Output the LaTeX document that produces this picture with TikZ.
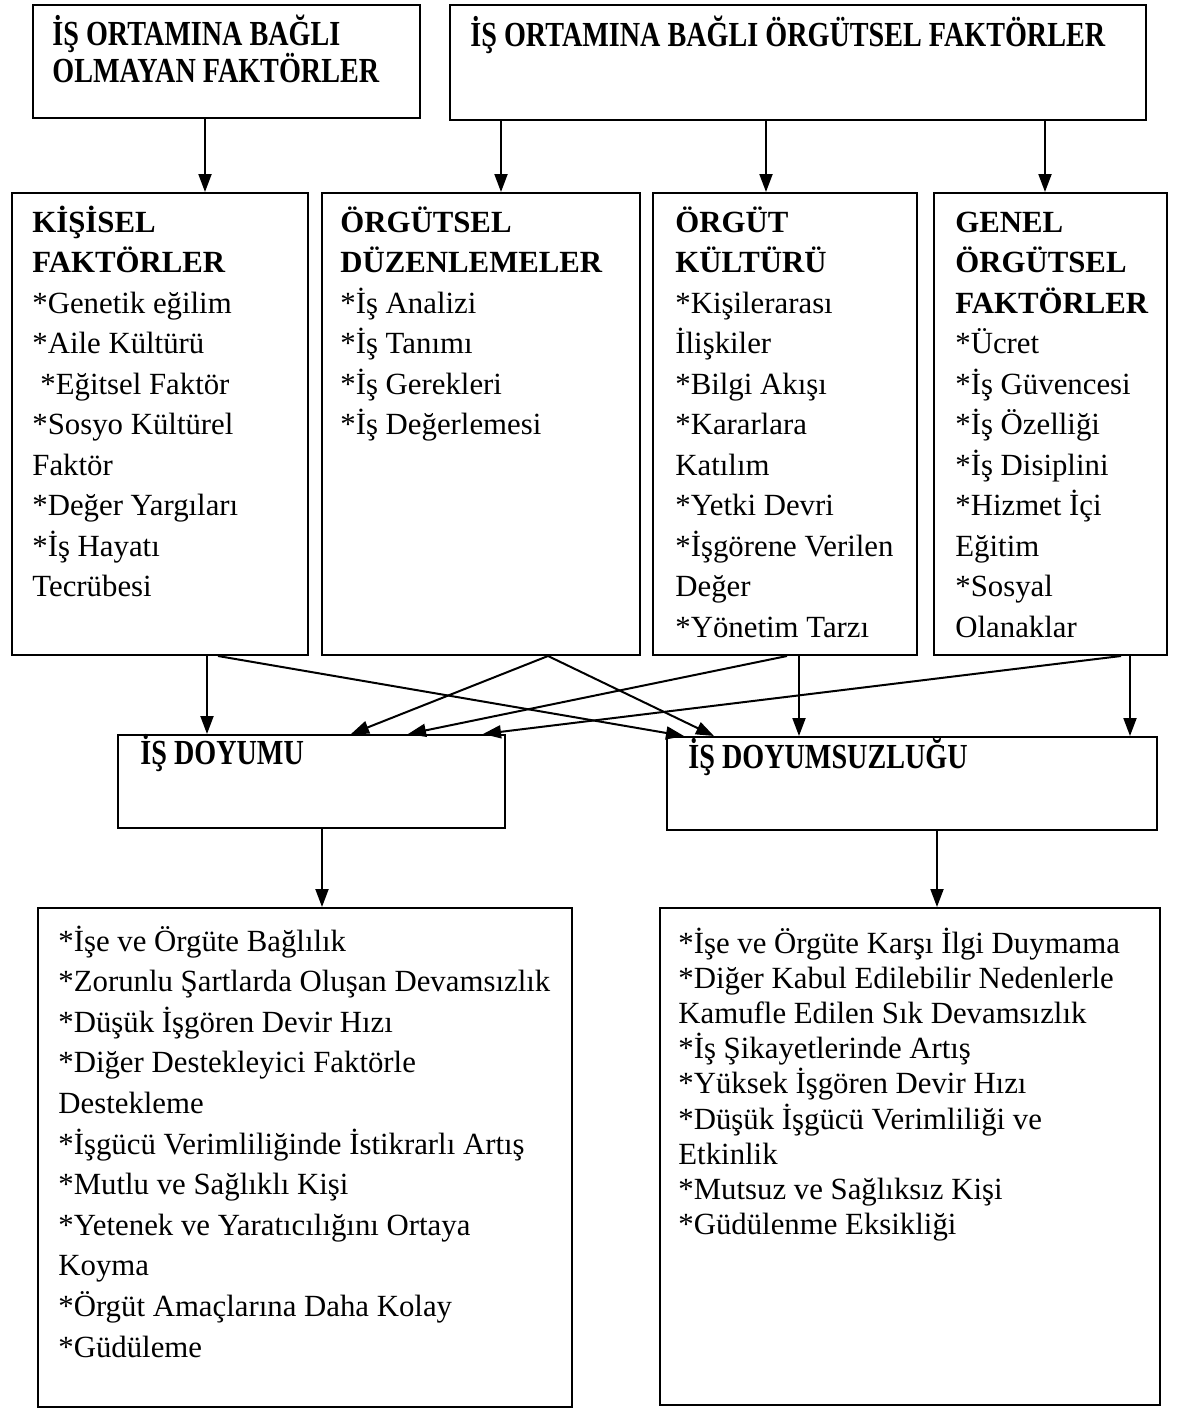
\documentclass[tikz,border=0pt]{standalone}
\usepackage{graphicx}
\usepackage{fontspec}
\setmainfont{Liberation Serif}
\usetikzlibrary{fit,arrows.meta}
\newcommand\condhead[1]{\scalebox{0.8}[1]{\bfseries #1}}
\tikzset{
  box/.style={draw, line width=1pt, inner sep=0pt},
  arr/.style={line width=1pt, -{Triangle[length=9pt,width=6.5pt]}},
  txt/.style={inner sep=0pt, anchor=base west, font=\fontsize{15.4}{20}\selectfont},
  head/.style={inner sep=0pt, anchor=base west, font=\fontsize{17.6}{20}\selectfont},
}
\newcommand\txtlines[5]{%
  \foreach \t [count=\i] in {#5} {\node[txt] (#1-\i) at ({#2},{#3+#4*(\i-1)}) {\t};}}
\begin{document}
\begin{tikzpicture}[x=0.5pt,y=-0.5pt]
\useasboundingbox (0,0) rectangle (1179,1409);
% top boxes
\node[box, fit={(33,5) (420,118)}] (top1) {};
\node[box, fit={(450,5) (1146,120)}] (top2) {};
\node[head] (h1a) at (52,45) {\condhead{İŞ ORTAMINA BAĞLI}};
\node[head] (h1b) at (52,82) {\condhead{OLMAYAN FAKTÖRLER}};
\node[head] (h2) at (470,46) {\condhead{İŞ ORTAMINA BAĞLI ÖRGÜTSEL FAKTÖRLER}};
% row 2
\node[box, fit={(12,193) (308,655)}] (kis) {};
\node[box, fit={(322,193) (640,655)}] (duz) {};
\node[box, fit={(653,193) (917,655)}] (kul) {};
\node[box, fit={(934,193) (1167,655)}] (gen) {};
\txtlines{ta}{32}{232}{40.5}{\textbf{KİŞİSEL},\textbf{FAKTÖRLER},*Genetik eğilim,*Aile Kültürü,\hspace*{4pt}*Eğitsel Faktör,*Sosyo Kültürel,Faktör,*Değer Yargıları,*İş Hayatı,Tecrübesi}
\txtlines{tb}{340}{232}{40.5}{\textbf{ÖRGÜTSEL},\textbf{DÜZENLEMELER},*İş Analizi,*İş Tanımı,*İş Gerekleri,*İş Değerlemesi}
\txtlines{tc}{675}{232}{40.5}{\textbf{ÖRGÜT},\textbf{KÜLTÜRÜ},*Kişilerarası,İlişkiler,*Bilgi Akışı,*Kararlara,Katılım,*Yetki Devri,*İşgörene Verilen,Değer,*Yönetim Tarzı}
\txtlines{td}{955}{232}{40.5}{\textbf{GENEL},\textbf{ÖRGÜTSEL},\textbf{FAKTÖRLER},*Ücret,*İş Güvencesi,*İş Özelliği,*İş Disiplini,*Hizmet İçi,Eğitim,*Sosyal,Olanaklar}
% row 3
\node[box, fit={(118,735) (505,828)}] (doy) {};
\node[box, fit={(667,737) (1157,830)}] (dsz) {};
\node[head] (h3) at (140,764) {\condhead{İŞ DOYUMU}};
\node[head] (h4) at (688,768) {\condhead{İŞ DOYUMSUZLUĞU}};
% bottom boxes
\node[box, fit={(38,908) (572,1407)}] (sonA) {};
\node[box, fit={(660,908) (1160,1405)}] (sonB) {};
\txtlines{tl}{58}{951}{40.6}{*İşe ve Örgüte Bağlılık,*Zorunlu Şartlarda Oluşan Devamsızlık,*Düşük İşgören Devir Hızı,*Diğer Destekleyici Faktörle,Destekleme,*İşgücü Verimliliğinde İstikrarlı Artış,*Mutlu ve Sağlıklı Kişi,*Yetenek ve Yaratıcılığını Ortaya,Koyma,*Örgüt Amaçlarına Daha Kolay,*Güdüleme}
\txtlines{tr}{678}{953}{35.2}{*İşe ve Örgüte Karşı İlgi Duymama,*Diğer Kabul Edilebilir Nedenlerle,Kamufle Edilen Sık Devamsızlık,*İş Şikayetlerinde Artış,*Yüksek İşgören Devir Hızı,*Düşük İşgücü Verimliliği ve,Etkinlik,*Mutsuz ve Sağlıksız Kişi,*Güdülenme Eksikliği}
% arrows top -> row 2
\draw[arr] (top1.south -| 205,0) -- (kis.north -| 205,0);
\draw[arr] (top2.south -| 501,0) -- (duz.north -| 501,0);
\draw[arr] (top2.south -| 766,0) -- (kul.north -| 766,0);
\draw[arr] (top2.south -| 1045,0) -- (gen.north -| 1045,0);
% arrows row 2 -> row 3
\draw[arr] (kis.south -| 207,0) -- (doy.north -| 207,0);
\draw[arr] (kis.south -| 218,0) -- (dsz.north -| 684,0);
\draw[arr] (duz.south -| 548,0) -- (doy.north -| 351,0);
\draw[arr] (duz.south -| 548,0) -- (dsz.north -| 714,0);
\draw[arr] (kul.south -| 787,0) -- (doy.north -| 408,0);
\draw[arr] (kul.south -| 799,0) -- (dsz.north -| 799,0);
\draw[arr] (gen.south -| 1121,0) -- (doy.north -| 483,0);
\draw[arr] (gen.south -| 1130,0) -- (dsz.north -| 1130,0);
% arrows row 3 -> bottom
\draw[arr] (doy.south -| 322,0) -- (sonA.north -| 322,0);
\draw[arr] (dsz.south -| 937,0) -- (sonB.north -| 937,0);
\end{tikzpicture}
\end{document}
